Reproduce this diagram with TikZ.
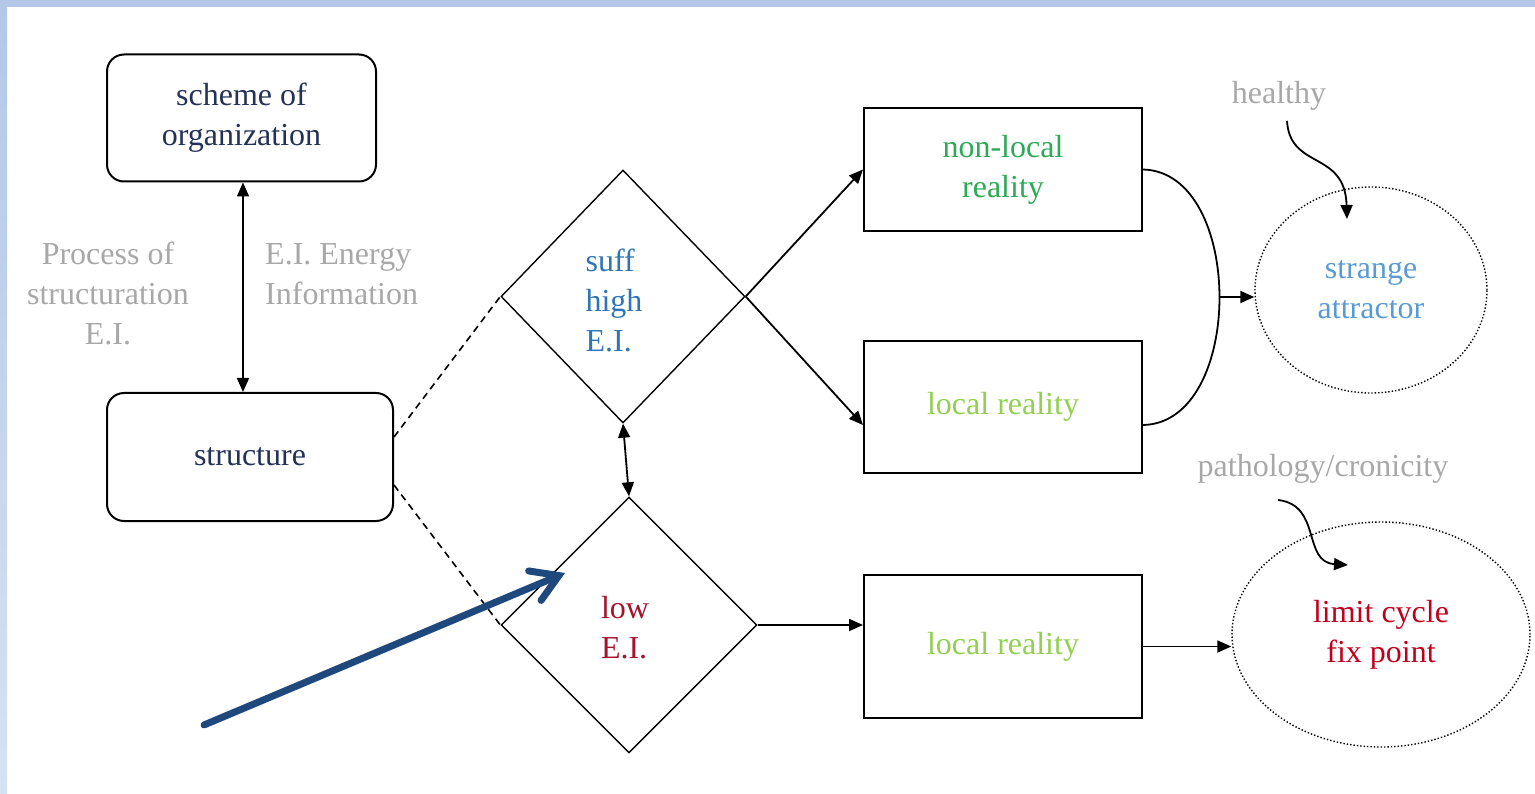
\documentclass[tikz,border=0pt]{standalone}
\usepackage{fontspec}
\setmainfont{Liberation Serif}
\usetikzlibrary{shapes.geometric,arrows.meta,calc}
\definecolor{bandtop}{RGB}{180,199,231}
\definecolor{bandlow}{RGB}{214,225,244}
\definecolor{navytxt}{RGB}{35,50,85}
\definecolor{greentxt}{RGB}{45,170,85}
\definecolor{limetxt}{RGB}{146,208,80}
\definecolor{bluetxt}{RGB}{46,117,182}
\definecolor{skytxt}{RGB}{91,155,213}
\definecolor{lowtxt}{RGB}{165,20,45}
\definecolor{redtxt}{RGB}{192,0,30}
\definecolor{graytxt}{RGB}{168,168,168}
\definecolor{bigblue}{RGB}{31,73,125}
\tikzset{
  txt/.style={font=\fontsize{32}{40}\selectfont, align=center, inner sep=0pt},
  rbox/.style={draw, line width=2pt, rounded corners=17pt, inner sep=0pt},
  sbox/.style={draw, line width=2pt, inner sep=0pt, minimum width=278pt},
  dia/.style={diamond, draw, line width=1.4pt, inner sep=0pt},
  attr/.style={ellipse, draw, dotted, line width=1.4pt, inner sep=0pt},
  conn/.style={line width=1.8pt, -{Triangle[length=14pt,width=12pt]}},
  dconn/.style={line width=1.8pt, {Triangle[length=14pt,width=12pt]}-{Triangle[length=14pt,width=12pt]}},
  dashconn/.style={line width=1.6pt, dash pattern=on 7pt off 5pt},
  bigarrow/.style={line width=7pt, color=bigblue, line cap=round, -{Straight Barb[length=26pt,width=32pt,line cap=round]}},
}
\begin{document}
\begin{tikzpicture}[x=1pt,y=-1pt]
\useasboundingbox (0,0) rectangle (1535,794);
\fill[white] (0,0) rectangle (1535,794);
\shade[top color=bandtop, bottom color=bandlow] (0,0) rectangle (7,794);
\fill[bandtop] (0,0) rectangle (1535,7);

% boxes
\node[rbox, minimum width=269pt, minimum height=127pt, txt, text=navytxt] (so) at (241.5,118) {scheme of\\organization};
\node[rbox, minimum width=286pt, minimum height=128pt, txt, text=navytxt] (st) at (250,457) {structure};

% labels
\node[txt, text=graytxt] (proc) at (108,293) {Process of\\structuration\\E.I.};
\node[txt, text=graytxt, align=left, anchor=west] (eien) at (265,274) {E.I. Energy\\Information};

% diamonds
\node[dia, minimum width=244pt, minimum height=253pt] (sh) at (623,296.5) {};
\node[txt, text=bluetxt, align=left] (shtxt) at (614,300) {suff\\high\\E.I.};
\node[dia, minimum width=256pt, minimum height=256pt] (lo) at (629,625) {};
\node[txt, text=lowtxt, align=left] (lotxt) at (625,628) {low\\E.I.};

% rectangles
\node[sbox, minimum height=123pt, txt, text=greentxt] (nl) at (1003,169.5) {non-local\\reality};
\node[sbox, minimum height=132pt, txt, text=limetxt] (lr1) at (1003,407) {local reality};
\node[sbox, minimum height=143pt, txt, text=limetxt] (lr2) at (1003,646.5) {local reality};

% ellipses
\node[attr, minimum width=232pt, minimum height=206pt, txt, text=skytxt] (sa) at (1371,290) {strange\\attractor};
\node[attr, minimum width=298pt, minimum height=225pt, txt, text=redtxt] (lc) at (1381,634.5) {limit cycle\\fix point};

\node[txt, text=graytxt] (hl) at (1279,96) {healthy};
\node[txt, text=graytxt] (pc) at (1323,469) {pathology/cronicity};

% connectors
\draw[dconn] (so.south -| 243,0) -- (st.north -| 243,0);
\draw[dashconn] ($(st.east)+(0,-20)$) -- (sh.west);
\draw[dashconn] ($(st.east)+(0,28)$) -- (lo.west);
\draw[conn] (sh.east) -- (nl.west);
\draw[conn] (sh.east) -- ($(lr1.west)+(0,18)$);
\draw[dconn] (sh.south) -- (lo.north);
\draw[conn] (lo.east) -- (lr2.west |- lo.east);
\draw[conn] (lr2.east) -- (lr2.east -| lc.west);

\coordinate (bend) at (1219,297);
\draw[line width=1.8pt] (nl.east) .. controls (1245,172) and (1245,423) .. ($(lr1.east)+(0,18)$);
\draw[conn] (bend) -- (bend -| sa.west);

\coordinate (hls) at (1287,121);
\coordinate (hle) at (1347,219);
\draw[conn] (hls) .. controls (1290,170) and (1345,150) .. (hle);
\coordinate (pcs) at (1278,500);
\coordinate (pce) at (1348,565);
\draw[conn] (pcs) .. controls (1322,505) and (1302,562) .. (pce);

\coordinate (bstart) at (204,725);
\coordinate (btip) at (565,573);
\draw[bigarrow] (bstart) -- (btip);
\end{tikzpicture}
\end{document}
